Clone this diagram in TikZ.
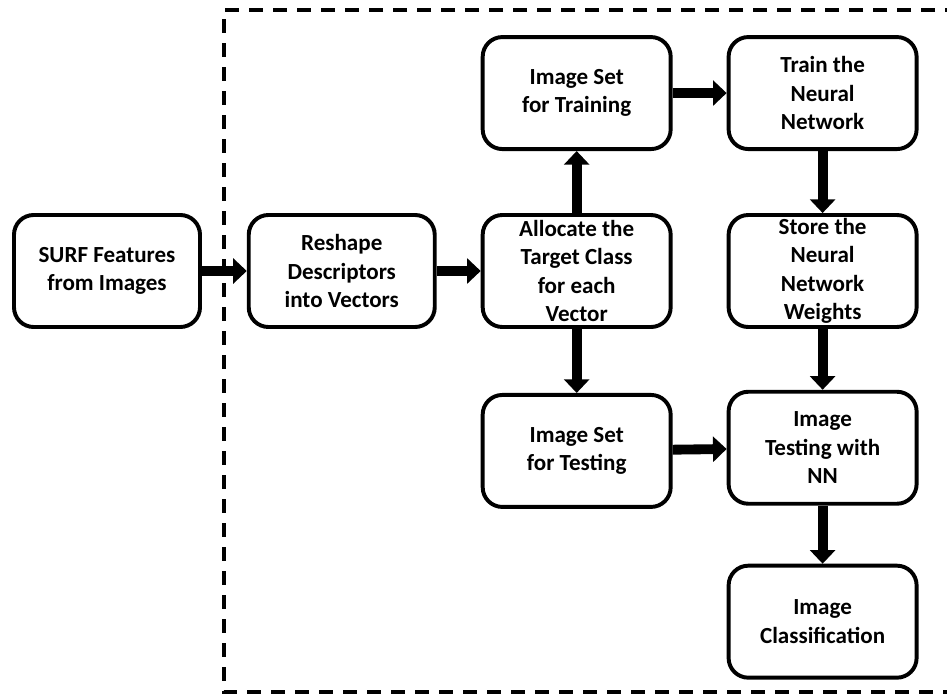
\documentclass[tikz,border=0pt]{standalone}
\usepackage{fontspec}
\setmainfont{Carlito}
\usepackage{tikz}
\usetikzlibrary{arrows.meta, positioning}
\tikzset{
  blk/.style={draw, line width=2.8pt, rounded corners=14pt, align=center,
              font=\fontsize{16.4}{20.2}\selectfont\bfseries, inner ysep=0pt,
              minimum height=2.8cm, minimum width=4.7cm},
  arr/.style={-{Triangle[length=0.34cm,width=0.62cm]}, line width=7pt}
}
\begin{document}
\begin{tikzpicture}
  \useasboundingbox (-2.675,6.775) rectangle (21.0,-10.625);
  % dashed frame, open to the right
  \draw[line width=2.8pt, dash pattern=on 0.36cm off 0.24cm]
    (21.3,6.525) -- (2.925,6.525) -- (2.925,-10.525) -- (21.3,-10.525);
  \node[blk,minimum width=4.65cm] (surf)   {SURF Features\\from Images};
  \node[blk,minimum width=4.65cm,right=1.12cm of surf] (reshape) {Reshape\\Descriptors\\into Vectors};
  \node[blk,right=1.1cm of reshape]  (alloc)  {Allocate the\\Target Class\\for each\\Vector};
  \node[blk,above=1.55cm of alloc]   (train)  {Image Set\\for Training};
  \node[blk,right=1.35cm of alloc]   (store)  {Store the\\Neural\\Network\\Weights};
  \node[blk,above=1.55cm of store]   (trainnn) {Train the\\Neural\\Network};
  \node[blk,below=1.6cm of alloc]    (test)   {Image Set\\for Testing};
  \node[blk,below=1.52cm of store]   (testnn) {Image\\Testing with\\NN};
  \node[blk,below=1.45cm of testnn]  (classif) {Image\\Classification};
  \draw[arr](surf)--(reshape); \draw[arr](reshape)--(alloc);
  \draw[arr](alloc)--(train);  \draw[arr](alloc)--(test);
  \draw[arr](train)--(trainnn); \draw[arr](trainnn)--(store);
  \draw[arr](store)--(testnn); \draw[arr](test)--(testnn);
  \draw[arr](testnn)--(classif);
\end{tikzpicture}
\end{document}
